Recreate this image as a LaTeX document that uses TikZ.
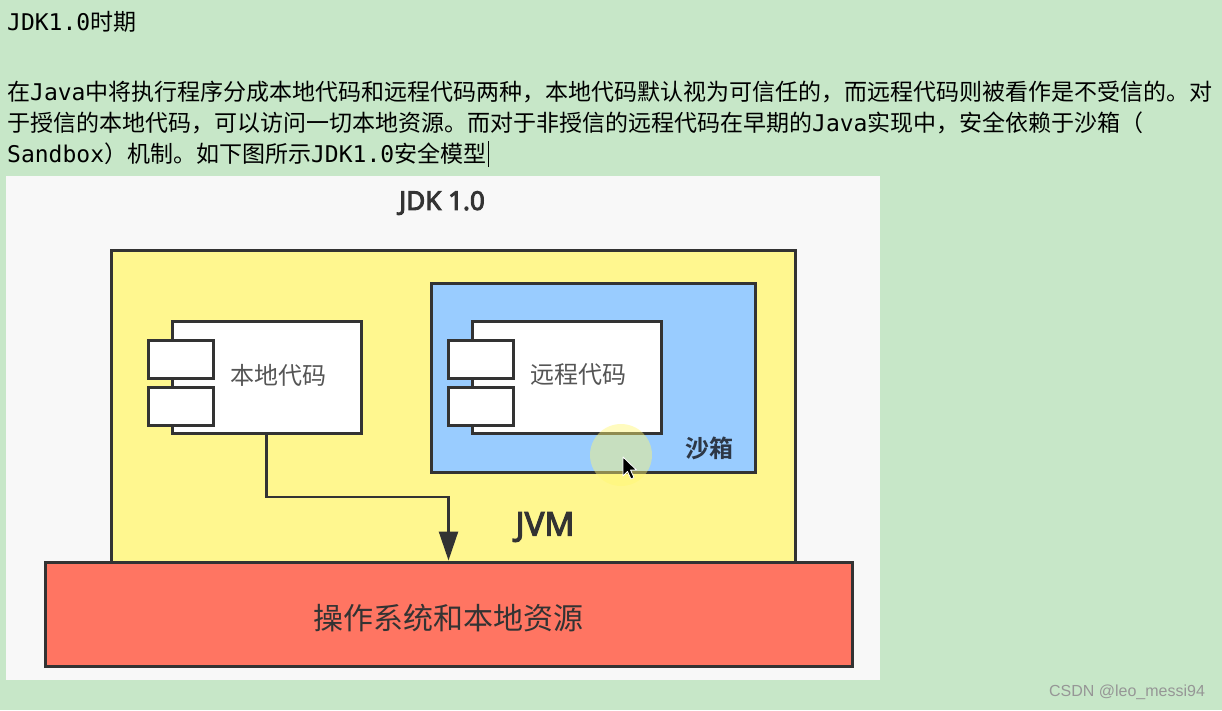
\documentclass[tikz,border=0pt]{standalone}
\usepackage{fontspec}
\setmainfont{Noto Sans}
\newfontfamily\titlefont[FakeBold=3.5]{Noto Sans}
\newfontfamily\cjk{Noto Sans CJK SC}
\newfontfamily\cjkb{Noto Sans CJK SC Bold}
\newfontfamily\mono{DejaVu Sans Mono}
\newfontfamily\wmfont{Liberation Sans}
\usetikzlibrary{arrows.meta}
\definecolor{bggreen}{RGB}{199,231,200}
\definecolor{panel}{RGB}{248,248,248}
\definecolor{jvmyellow}{RGB}{255,247,143}
\definecolor{sandblue}{RGB}{153,204,255}
\definecolor{osred}{RGB}{255,117,98}
\definecolor{stroke}{RGB}{51,51,51}
\definecolor{labelgray}{RGB}{85,85,85}
\definecolor{sandtext}{RGB}{45,55,70}
\definecolor{wmgray}{RGB}{150,150,150}
\begin{document}
\begin{tikzpicture}[x=1pt,y=-1pt,
  box/.style={draw=stroke, line width=3pt, inner sep=0pt},
  comp/.style={box, fill=white, minimum width=189pt, minimum height=112pt},
  tab/.style={box, fill=white, minimum width=65pt, minimum height=38pt},
  para/.style={anchor=base west, inner sep=0pt, text=black, font=\cjk\fontsize{23}{23}\selectfont},
  complabel/.style={inner sep=0pt, text=labelgray, font=\cjk\fontsize{24}{24}\selectfont},
  title/.style={inner sep=0pt, text=stroke, font=\titlefont\fontsize{26}{26}\selectfont},
  link/.style={draw=stroke, line width=2.5pt, -{Triangle[width=19pt,length=29pt]}}
]
\useasboundingbox (0,0) rectangle (1222,710);
\fill[bggreen] (0,0) rectangle (1222,710);

% --- text above the figure ---
\node[para] (h) at (7,30) {{\mono JDK1.0}时期};
\node[para] (l1) at (7,100) {在{\mono Java}中将执行程序分成本地代码和远程代码两种，本地代码默认视为可信任的，而远程代码则被看作是不受信的。对};
\node[para] (l2) at (7,131) {于授信的本地代码，可以访问一切本地资源。而对于非授信的远程代码在早期的{\mono Java}实现中，安全依赖于沙箱（};
\node[para] (l3) at (7,162) {{\mono Sandbox}）机制。如下图所示{\mono JDK1.0}安全模型};
\draw[line width=1.8pt] ([xshift=2pt]l3.base east) ++(0,5) -- ++(0,-26);

% --- figure panel ---
\fill[panel] (6,176) rectangle (880,680);
\node[title] (jdk) at (442,203) {JDK 1.0};

\node[box, fill=jvmyellow, minimum width=684pt, minimum height=312pt] (jvm) at (453,406) {};
\node[title, font=\titlefont\fontsize{33}{33}\selectfont] (jvmlabel) at (545,527) {JVM};

\node[box, fill=sandblue, minimum width=324pt, minimum height=189pt] (sandbox) at (593,377.5) {};
\node[inner sep=0pt, text=sandtext, font=\cjkb\fontsize{24}{24}\selectfont] (sandlabel) at (709,448) {沙箱};

% local code component
\node[comp] (local) at (266.5,377) {};
\node[tab] (localtab1) at (180.5,359) {};
\node[tab] (localtab2) at (180.5,406) {};
\node[complabel] (locallabel) at (278,375) {本地代码};

% remote code component
\node[comp] (remote) at (566.5,377) {};
\node[tab] (remotetab1) at (480.5,359) {};
\node[tab] (remotetab2) at (480.5,406) {};
\node[complabel] (remotelabel) at (578,375) {远程代码};

% OS box
\node[box, fill=osred, minimum width=807pt, minimum height=104pt] (os) at (448.5,614) {};
\node[inner sep=0pt, text=stroke, font=\cjk\fontsize{30}{30}\selectfont] (oslabel) at (448,618) {操作系统和本地资源};

% connector
\coordinate (bend) at (448.5,497);
\draw[link] (local.south) |- (bend) -- (os.north);

% mouse highlight and pointer
\fill[yellow!55!white, opacity=0.45] (621,455) circle (31);
\draw[fill=black, draw=white, line width=0.8pt, line join=round]
  (623,457) -- ++(0,19) -- ++(4.5,-4.5) -- ++(3.5,7.5) -- ++(3,-1.5) -- ++(-3.5,-7.5) -- ++(6,0) -- cycle;

% watermark
\node[inner sep=0pt, text=wmgray, font=\wmfont\fontsize{16}{16}\selectfont] (wm) at (1127,692) {CSDN @leo\_messi94};
\end{tikzpicture}
\end{document}
